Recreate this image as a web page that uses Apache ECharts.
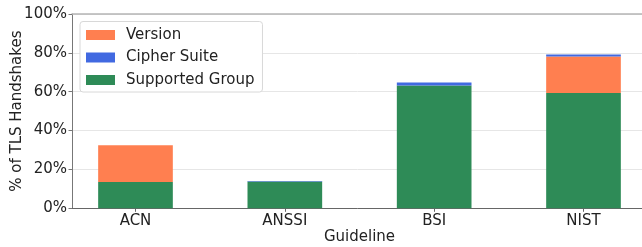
<!DOCTYPE html>
<html>
<head>
<meta charset="utf-8">
<script src="https://cdn.jsdelivr.net/npm/echarts@6/dist/echarts.min.js"></script>
<style>
html,body{margin:0;padding:0;background:#fff;}
#c{width:642px;height:247px;}
</style>
</head>
<body>
<div id="c"></div>
<script>
const categories = ['ACN', 'ANSSI', 'BSI', 'NIST'];
const supportedGroup = [13.6, 13.8, 63.2, 59.3];
const version = [18.9, 0, 0, 18.8];
const cipherSuite = [0, 0.3, 1.6, 1.0];
const yTicks = [0, 20, 40, 60, 80, 100];

const FONT = 'DejaVu Sans';
const chart = echarts.init(document.getElementById('c'), null, {renderer: 'canvas'});
const barStyle = (c) => ({color: c});
const TOP = 14, BOTTOM = 38.7;

chart.setOption({
  animation: false,
  backgroundColor: '#fff',
  textStyle: {fontFamily: FONT},
  grid: [
    // grid 0: frame, y labels, gridlines
    {left: 72, right: -5, top: TOP, bottom: BOTTOM, containLabel: false, outerBoundsMode: 'none'},
    // grid 1: category bars (band centred on reference positions)
    {left: 60.83, right: -16.17, top: TOP, bottom: BOTTOM, containLabel: false, outerBoundsMode: 'none'}
  ],
  legend: {
    left: 80, top: 21.5,
    orient: 'vertical',
    data: ['Version', 'Cipher Suite', 'Supported Group'],
    icon: 'rect',
    itemWidth: 29, itemHeight: 10,
    itemGap: 6.5,
    padding: [5.5, 8, 4, 6],
    backgroundColor: '#fff',
    borderColor: '#d8d8d8', borderWidth: 1, borderRadius: 3,
    textStyle: {fontFamily: FONT, fontSize: 15, color: '#222', lineHeight: 16, padding: [0, 0, 0, 6]}
  },
  xAxis: [{
    gridIndex: 0, type: 'value', min: 0, max: 1, position: 'bottom',
    name: 'Guideline', nameLocation: 'middle', nameGap: 21, nameMoveOverlap: false,
    nameTextStyle: {fontFamily: FONT, fontSize: 15, color: '#222'},
    axisLine: {show: true, onZero: false, lineStyle: {color: '#666', width: 1}},
    axisTick: {show: false}, axisLabel: {show: false}, splitLine: {show: false}
  }, {
    gridIndex: 0, type: 'value', min: 0, max: 1, position: 'top',
    axisLine: {show: true, onZero: false, lineStyle: {color: '#b5b5b5', width: 1.5}},
    axisTick: {show: false}, axisLabel: {show: false}, splitLine: {show: false}
  }, {
    gridIndex: 1, type: 'category', data: categories, position: 'bottom',
    axisLine: {show: false, onZero: false},
    axisTick: {show: true, alignWithLabel: true, length: 3.5, lineStyle: {color: '#666'}},
    axisLabel: {show: true, fontFamily: FONT, fontSize: 15, color: '#222', margin: 5},
    splitLine: {show: false}
  }],
  yAxis: [{
    gridIndex: 0, type: 'value', min: 0, max: 100, interval: 20,
    name: '% of TLS Handshakes', nameLocation: 'middle', nameGap: 47, nameMoveOverlap: false,
    nameTextStyle: {fontFamily: FONT, fontSize: 15, color: '#222'},
    axisLine: {show: true, onZero: false, lineStyle: {color: '#777', width: 1}},
    axisTick: {show: true, length: 3.5, lineStyle: {color: '#777'}},
    axisLabel: {fontFamily: FONT, fontSize: 15, color: '#222', margin: 5, formatter: '{value}%'},
    splitLine: {show: true, lineStyle: {color: '#e6e6e6', width: 1}}
  }, {
    gridIndex: 1, type: 'value', min: 0, max: 100, interval: 20, show: false
  }],
  series: [
    {name: 'Supported Group', type: 'bar', stack: 'all', xAxisIndex: 2, yAxisIndex: 1, barWidth: '50%', data: supportedGroup, itemStyle: barStyle('#2E8B57')},
    {name: 'Version', type: 'bar', stack: 'all', xAxisIndex: 2, yAxisIndex: 1, barWidth: '50%', data: version, itemStyle: barStyle('#FF7F50')},
    {name: 'Cipher Suite', type: 'bar', stack: 'all', xAxisIndex: 2, yAxisIndex: 1, barWidth: '50%', data: cipherSuite, itemStyle: barStyle('#4169E1')}
  ]
});
</script>
</body>
</html>
